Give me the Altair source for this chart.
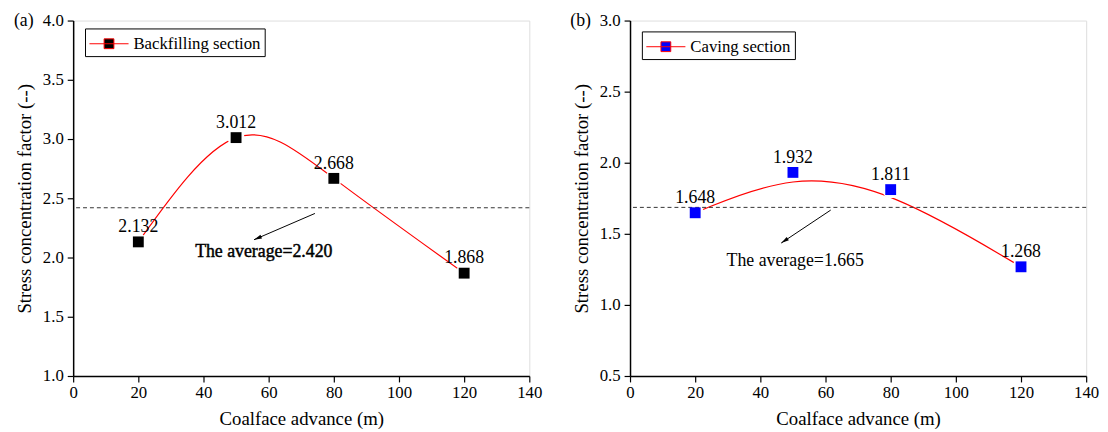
import math
import altair as alt
import pandas as pd

# ---------------- data ----------------
x_adv = [20, 50, 80, 120]
scf_back = [2.132, 3.012, 2.668, 1.868]
scf_cave = [1.648, 1.932, 1.811, 1.268]
lab_back = ["2.132", "3.012", "2.668", "1.868"]
lab_cave = ["1.648", "1.932", "1.811", "1.268"]
series_names = ["Backfilling section", "Caving section"]

avg_line_back = 2.42
avg_line_cave = 1.686
avg_text = ["The average=2.420", "The average=1.665"]
avg_text_x = [58.5, 50.7]
avg_text_y = [2.005, 1.273]

# arrow: start x, start y, tip x, tip y
arrow_back = [74.2, 2.372, 55.5, 2.15]
arrow_cave = [61.6, 1.667, 46.4, 1.435]

x_ticks = list(range(0, 141, 10))
y_ticks_back = [1.0 + 0.25 * i for i in range(13)]
y_ticks_cave = [0.5 + 0.25 * i for i in range(11)]
y_dom_back = [1.0, 4.0]
y_dom_cave = [0.5, 3.0]
x_dom = [0, 140]

W, H = 462, 360
FONT = "Liberation Serif"

LEG_PATH = "M-1,0H2.6M0.35,-0.45H1.25V0.45H0.35Z"
HEAD_PATH = "M0,0L-0.5,2L0.5,2Z"

AXIS_STYLE = dict(
    labelFont=FONT, titleFont=FONT, labelFontSize=17, titleFontSize=19,
    titleFontWeight="normal", labelColor="black", titleColor="black",
    domainColor="black", domainWidth=1.5, tickColor="black", tickWidth=1.2,
    labelFlush=False, labelOverlap=False, grid=False,
)


def panel(tag, ys, labs, interp, color, series, ydom, yticks, avg_y,
          avg_lab, ax, ay, arrow, legend_y, heavy):
    df = pd.DataFrame({"x": x_adv, "y": ys, "lab": labs, "series": [series] * len(ys)})
    xs = alt.Scale(domain=x_dom, nice=False, zero=False)
    ysc = alt.Scale(domain=ydom, nice=False, zero=False)
    xaxis = alt.Axis(
        values=x_ticks, title="Coalface advance (m)",
        labelExpr="datum.value % 20 === 0 ? datum.label : ''",
        tickSize={"condition": {"test": "datum.value % 20 !== 0", "value": 4}, "value": 6},
        labelPadding=3, titlePadding=9, **AXIS_STYLE,
    )
    yaxis = alt.Axis(
        values=yticks, title="Stress concentration factor (--)", format=".1f",
        labelExpr="abs(datum.value*2 - round(datum.value*2)) < 0.001 ? datum.label : ''",
        tickSize={"condition": {"test": "abs(datum.value*2 - round(datum.value*2)) > 0.001", "value": 4}, "value": 6},
        labelPadding=4, titlePadding=8, **AXIS_STYLE,
    )
    X = alt.X("x:Q", scale=xs, axis=xaxis)
    Y = alt.Y("y:Q", scale=ysc, axis=yaxis)
    base = alt.Chart(df)

    line = base.mark_line(color="#FF0000", strokeWidth=1.2, interpolate=interp).encode(x=X, y=Y)
    mask = base.mark_circle(color="white", opacity=1, size=300).encode(
        x=alt.X("x:Q", scale=xs), y=alt.Y("y:Q", scale=ysc))
    rule = alt.Chart(pd.DataFrame({"y": [avg_y]})).mark_rule(
        strokeDash=[4, 3], color="#333333", strokeWidth=1).encode(y=alt.Y("y:Q", scale=ysc))
    pts = base.mark_square(size=121, opacity=1).encode(
        x=alt.X("x:Q", scale=xs), y=alt.Y("y:Q", scale=ysc),
        fill=alt.Fill("series:N", scale=alt.Scale(domain=[series], range=[color]),
                      legend=alt.Legend(
                          orient="none", legendX=12, legendY=legend_y, title=None,
                          symbolType=LEG_PATH, symbolSize=484,
                          symbolStrokeColor="#FF0000", symbolStrokeWidth=1,
                          symbolOpacity=1, labelFont=FONT, labelFontSize=17,
                          labelColor="black", labelOffset=22, padding=4,
                          strokeColor="black", fillColor="white", labelLimit=0,
                      )))
    vals = base.mark_text(dy=-10, baseline="alphabetic", align="center",
                          fontSize=18, font=FONT, color="black").encode(
        x=alt.X("x:Q", scale=xs), y=alt.Y("y:Q", scale=ysc), text="lab:N")
    adf = pd.DataFrame({"x": [ax], "y": [ay], "t": [avg_lab]})
    txt_kw = dict(baseline="alphabetic", align="center", fontSize=18, font=FONT, color="black")
    if heavy:
        txt_kw.update(stroke="black", strokeWidth=0.45)
    avg_t = alt.Chart(adf).mark_text(**txt_kw).encode(
        x=alt.X("x:Q", scale=xs), y=alt.Y("y:Q", scale=ysc), text="t:N")

    ardf = pd.DataFrame({"x": [arrow[0]], "y": [arrow[1]], "x2": [arrow[2]], "y2": [arrow[3]]})
    ar_line = alt.Chart(ardf).mark_rule(color="black", strokeWidth=1).encode(
        x=alt.X("x:Q", scale=xs), y=alt.Y("y:Q", scale=ysc), x2="x2:Q", y2="y2:Q")
    dxp = (arrow[2] - arrow[0]) * W / (x_dom[1] - x_dom[0])
    dyp = -(arrow[3] - arrow[1]) * H / (ydom[1] - ydom[0])
    ang = math.degrees(math.atan2(dxp, -dyp)) % 360
    hdf = pd.DataFrame({"x": [arrow[2]], "y": [arrow[3]]})
    ar_head = alt.Chart(hdf).mark_point(shape=HEAD_PATH, filled=True, size=64, angle=ang,
                                        color="black", opacity=1, strokeWidth=0).encode(
        x=alt.X("x:Q", scale=xs), y=alt.Y("y:Q", scale=ysc))

    tag_t = alt.Chart(pd.DataFrame({"t": [tag]})).mark_text(
        fontSize=18, font=FONT, color="black", align="center", baseline="middle").encode(
        x=alt.value(-50), y=alt.value(1), text="t:N")

    return alt.layer(line, mask, rule, pts, vals, avg_t, ar_line, ar_head, tag_t).properties(
        width=W, height=H)


left = panel("(a)", scf_back, lab_back, "natural", "#000000", series_names[0],
             y_dom_back, y_ticks_back, avg_line_back, avg_text[0],
             avg_text_x[0], avg_text_y[0], arrow_back, 8, True)
right = panel("(b)", scf_cave, lab_cave, "basis", "#0000FF", series_names[1],
              y_dom_cave, y_ticks_cave, avg_line_cave, avg_text[1],
              avg_text_x[1], avg_text_y[1], arrow_cave, 11, False)

chart = alt.hconcat(left, right, spacing=27).resolve_scale(
    x="independent", y="independent", fill="independent"
).resolve_legend(fill="independent").properties(
    padding={"left": 5, "top": 0, "right": 0, "bottom": 0}
).configure_view(stroke="black", strokeWidth=1.5).configure(background="white")

chart.save("out.html", embed_options={"renderer": "svg", "actions": False})
